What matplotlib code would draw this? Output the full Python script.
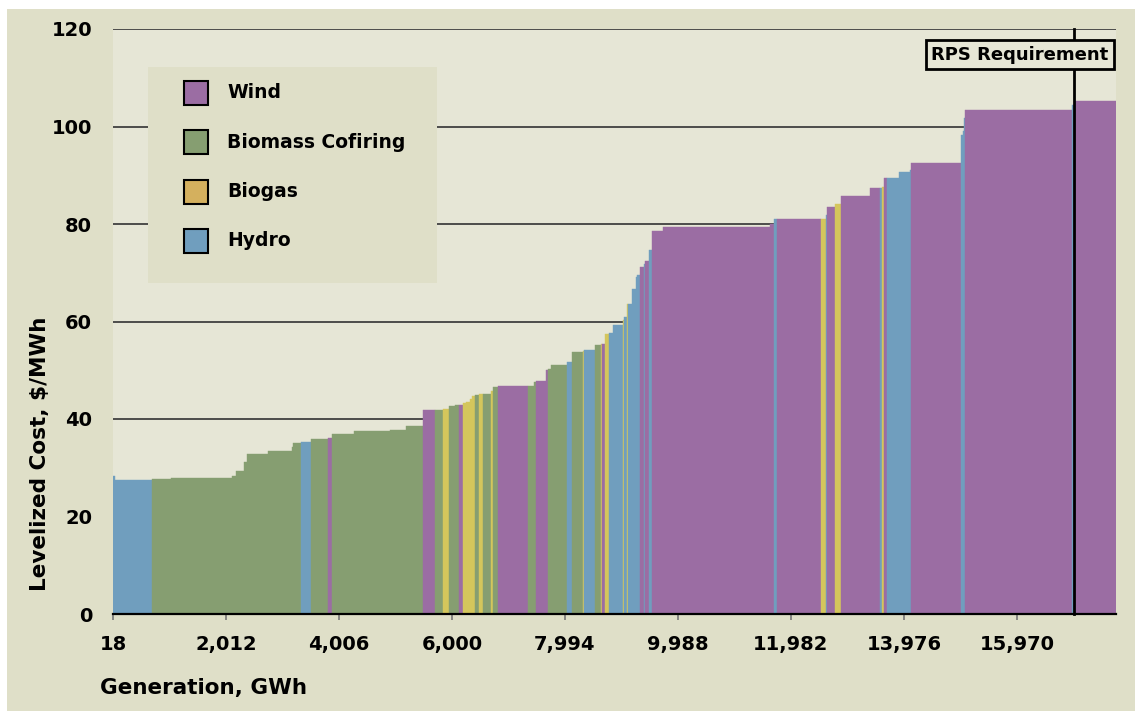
import matplotlib
matplotlib.use("Agg")
import matplotlib.pyplot as plt
import numpy as np
from matplotlib.patches import Rectangle

# supply curve blocks, in merit order: generation (GWh), levelized cost ($/MWh), technology
START_GWH = 18
WIDTH_GWH = [35, 653, 335, 1076, 71, 141, 53, 371, 424, 18,
             141, 176, 300, 71, 388, 635, 282, 300, 212, 141,
             106, 106, 71, 71, 53, 71, 35, 53, 71, 71,
             141, 35, 88, 529, 106, 35, 176, 35, 53, 282,
             88, 194, 18, 194, 106, 18, 53, 71, 71, 176,
             18, 53, 18, 71, 71, 18, 53, 71, 18, 71,
             53, 194, 1888, 71, 53, 776, 88, 18, 141, 106,
             512, 176, 35, 35, 53, 212, 194, 18, 882, 35,
             18, 18, 1888, 53, 724]
COST = [28.3, 27.5, 27.7, 27.9, 28.3, 29.3, 31.2, 32.8, 33.4, 34.3,
        35.1, 35.3, 35.9, 36.1, 36.9, 37.5, 37.7, 38.6, 41.8, 41.8,
        42.0, 42.7, 42.9, 42.9, 43.3, 43.5, 44.1, 44.7, 44.9, 45.1,
        45.1, 45.7, 46.6, 46.8, 46.8, 47.6, 47.8, 50.1, 50.3, 51.1,
        51.7, 53.7, 53.9, 54.2, 55.2, 55.3, 55.4, 57.4, 57.6, 59.3,
        60.3, 60.9, 63.6, 63.6, 66.7, 69.1, 69.5, 71.2, 71.8, 72.4,
        74.7, 78.6, 79.4, 80.0, 81.0, 81.0, 81.0, 81.8, 83.5, 84.1,
        85.7, 87.4, 87.4, 87.6, 89.4, 89.4, 90.7, 91.0, 92.5, 98.3,
        99.1, 101.7, 103.4, 104.4, 105.2]
TECH = ["H", "H", "B", "B", "B", "B", "B", "B", "B", "B",
        "B", "H", "B", "W", "B", "B", "B", "B", "W", "B",
        "G", "B", "B", "W", "G", "G", "G", "G", "B", "G",
        "B", "G", "B", "W", "B", "B", "W", "W", "B", "B",
        "H", "B", "G", "H", "B", "G", "W", "G", "H", "H",
        "G", "H", "G", "H", "H", "H", "H", "W", "H", "W",
        "H", "W", "W", "W", "H", "W", "G", "H", "W", "G",
        "W", "W", "H", "G", "W", "H", "H", "H", "W", "H",
        "H", "H", "W", "H", "W"]

LEGEND_NAMES = ["Wind", "Biomass Cofiring", "Biogas", "Hydro"]
LEGEND_KEYS = ["W", "B", "G", "H"]
XTICKS = [18, 2012, 4006, 6000, 7994, 9988, 11982, 13976, 15970]
YTICKS = [0, 20, 40, 60, 80, 100, 120]
RPS_GWH = 16976
X_MAX = 17718

BAR_COLORS = {"W": "#9b6da3", "B": "#869e71", "G": "#d4c65c", "H": "#709ebe"}
LEGEND_COLORS = {"W": "#9b6da3", "B": "#869e71", "G": "#d4b05e", "H": "#709ebe"}
OUTER_BG = "#dfdfc8"
PLOT_BG = "#e6e6d6"
W, H = 1135, 711

plt.rcParams["font.family"] = ["DejaVu Sans"]
plt.rcParams["font.weight"] = "bold"

fig = plt.figure(figsize=(W / 100, H / 100), dpi=100, facecolor="white")
fig.patches.append(Rectangle((7 / W, 0), 1 - 7 / W, (H - 9) / H,
                             transform=fig.transFigure, facecolor=OUTER_BG,
                             edgecolor="none", zorder=-10))

ax = fig.add_axes([113 / W, (H - 614) / H, 1003 / W, 585 / H])
ax.set_facecolor(PLOT_BG)

widths = np.array(WIDTH_GWH, dtype=float)
lefts = START_GWH + np.concatenate([[0], np.cumsum(widths)[:-1]])
colors = [BAR_COLORS[t] for t in TECH]
ax.bar(lefts, COST, width=widths, align="edge", color=colors,
       edgecolor=colors, linewidth=0.3, zorder=2)

ax.set_xlim(START_GWH, X_MAX)
ax.set_ylim(0, 120)
ax.set_xticks(XTICKS)
ax.set_xticklabels([f"{v:,}" for v in XTICKS], fontsize=14, fontweight="bold")
ax.set_yticks(YTICKS)
ax.set_yticklabels([str(v) for v in YTICKS], fontsize=14, fontweight="bold")
ax.tick_params(axis="x", direction="out", length=4, width=1.2, color="#777777", pad=11)
ax.tick_params(axis="y", length=0, pad=15)
ax.yaxis.grid(True, color="#333333", lw=1.2, zorder=1)
ax.set_axisbelow(True)
for side in ("top", "right", "left"):
    ax.spines[side].set_visible(False)
ax.spines["bottom"].set_linewidth(1.6)
ax.spines["bottom"].set_color("black")
ax.spines["bottom"].set_zorder(5)

ax.axvline(RPS_GWH, color="black", lw=2, zorder=4, clip_on=False)
fig.text(1020 / W, 1 - 54.5 / H, "RPS Requirement", ha="center", va="center",
         fontsize=13, fontweight="bold", zorder=6,
         bbox=dict(boxstyle="square,pad=0.3", facecolor=PLOT_BG,
                   edgecolor="black", linewidth=2))

fig.text(40 / W, 1 - 454 / H, "Levelized Cost, $/MWh", rotation=90,
         ha="center", va="center", fontsize=15.5, fontweight="bold")
fig.text(100 / W, 1 - 688 / H, "Generation, GWh", ha="left", va="center",
         fontsize=15.5, fontweight="bold")

# legend panel
fig.patches.append(Rectangle((148 / W, 1 - 283 / H), 289 / W, 216 / H,
                             transform=fig.transFigure, facecolor=OUTER_BG,
                             edgecolor="none", zorder=5))
for i, (name, key) in enumerate(zip(LEGEND_NAMES, LEGEND_KEYS)):
    yc = 93 + i * 49.3
    fig.patches.append(Rectangle((184 / W, 1 - (yc + 12) / H), 24 / W, 24 / H,
                                 transform=fig.transFigure,
                                 facecolor=LEGEND_COLORS[key],
                                 edgecolor="black", linewidth=1.5, zorder=6))
    fig.text(227 / W, 1 - yc / H, name, ha="left", va="center",
             fontsize=13.5, fontweight="bold", zorder=6)

fig.savefig("out.png", dpi=100, facecolor=fig.get_facecolor())
